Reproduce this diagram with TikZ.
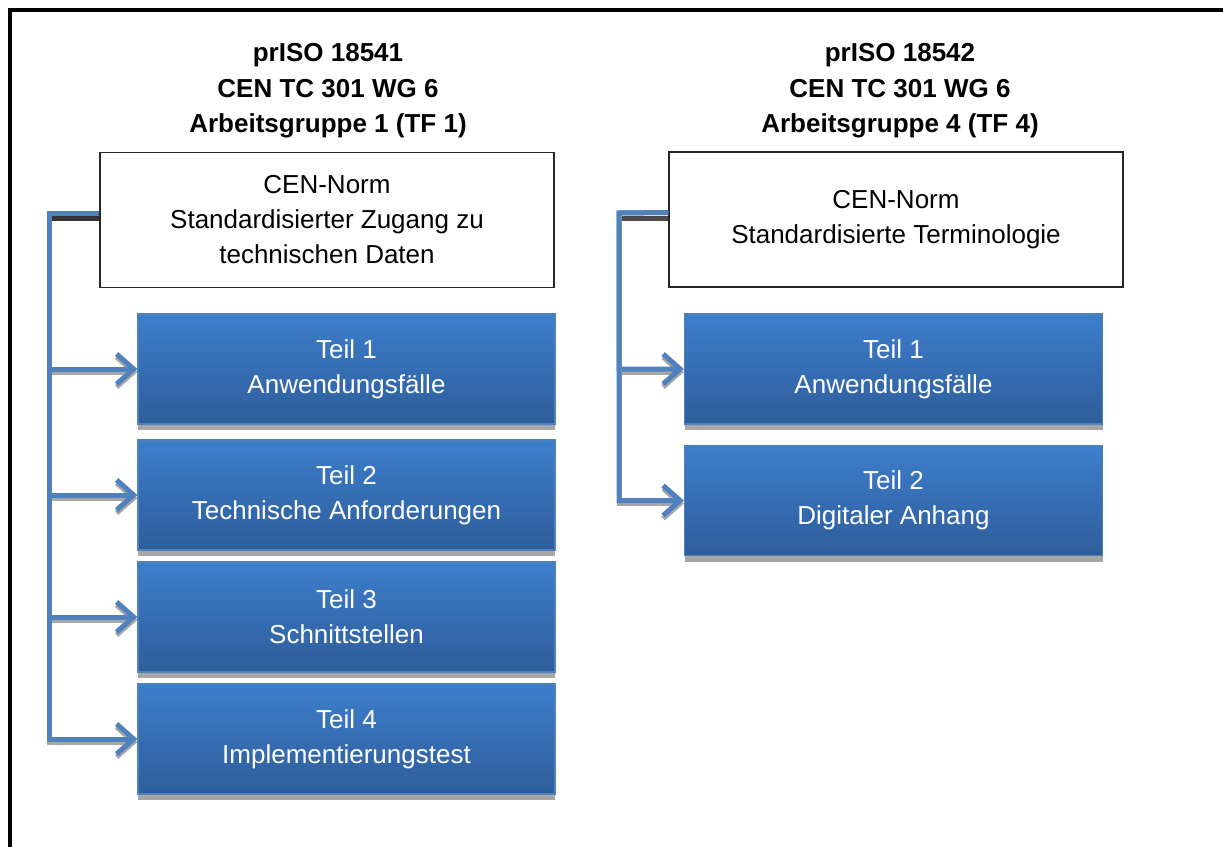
\documentclass[tikz,border=0pt]{standalone}
\usepackage{fontspec}
\setmainfont{Liberation Sans}
\usetikzlibrary{arrows.meta,shadows}

\definecolor{linkblue}{RGB}{79,129,189}
\definecolor{partTop}{RGB}{61,126,203}
\definecolor{partBot}{RGB}{46,93,155}
\definecolor{shadowgray}{RGB}{166,166,166}

\begin{document}
\begin{tikzpicture}[x=0.5pt,y=-0.5pt,
  titletxt/.style={align=center,font=\bfseries\fontsize{13}{17.75}\selectfont},
  normbox/.style={draw=black!85,line width=0.7pt,fill=white,align=center,
    minimum width=227pt,minimum height=67.5pt,inner sep=0pt,
    font=\fontsize{13}{17.5}\selectfont},
  partbox/.style={top color=partTop,bottom color=partBot,draw=linkblue,line width=0.6pt,
    text=white,align=center,minimum width=208.5pt,minimum height=55pt,inner sep=0pt,
    font=\fontsize{13}{17.5}\selectfont,
    drop shadow={shadow xshift=0pt,shadow yshift=-3pt,fill=shadowgray,opacity=1}},
  link/.style={draw=linkblue,line width=2.5pt,-{Straight Barb[length=8.5pt,width=15pt]}},
  linkshadow/.style={link,draw=shadowgray,transform canvas={yshift=-1.5pt}}
]
\useasboundingbox (0,0) rectangle (1223,847);
% frame
\draw[line width=2pt] (10,847) -- (10,9.5) -- (1223,9.5);

% left group
\node[titletxt] (title1) at (328,91) {prISO 18541\\CEN TC 301 WG 6\\Arbeitsgruppe 1 (TF 1)};
\node[normbox] (norm1) at (327,220) {CEN-Norm\\Standardisierter Zugang zu\\technischen Daten};
\coordinate (spine1) at (49,213);
\draw[line width=2.5pt,black!80] (norm1.west |- 0,218) -- (52,218);
\foreach \ty/\txt [count=\i] in {369/{Teil 1\\Anwendungsfälle},
    495/{Teil 2\\Technische Anforderungen},
    617/{Teil 3\\Schnittstellen},
    739/{Teil 4\\Implementierungstest}}
{
  \node[partbox] (partA\i) at (346.5,\ty) {\txt};
  \draw[linkshadow] (spine1) |- (partA\i.west);
  \draw[link] ([yshift=3.5pt]norm1.west) -- (spine1) |- (partA\i.west);
}

% right group
\node[titletxt] (title2) at (900,91) {prISO 18542\\CEN TC 301 WG 6\\Arbeitsgruppe 4 (TF 4)};
\node[normbox,minimum width=227pt] (norm2) at (896,219.5) {CEN-Norm\\Standardisierte Terminologie};
\coordinate (spine2) at (619,213);
\draw[line width=2.5pt,black!70] (norm2.west |- 0,218) -- (622,218);
\foreach \ty/\txt [count=\i] in {369/{Teil 1\\Anwendungsfälle},
    500.5/{Teil 2\\Digitaler Anhang}}
{
  \node[partbox,minimum width=209pt] (partB\i) at (893.5,\ty) {\txt};
  \draw[linkshadow] (spine2) |- (partB\i.west);
  \draw[link] ([yshift=3.5pt]norm2.west) -- (spine2) |- (partB\i.west);
}
\end{tikzpicture}
\end{document}
